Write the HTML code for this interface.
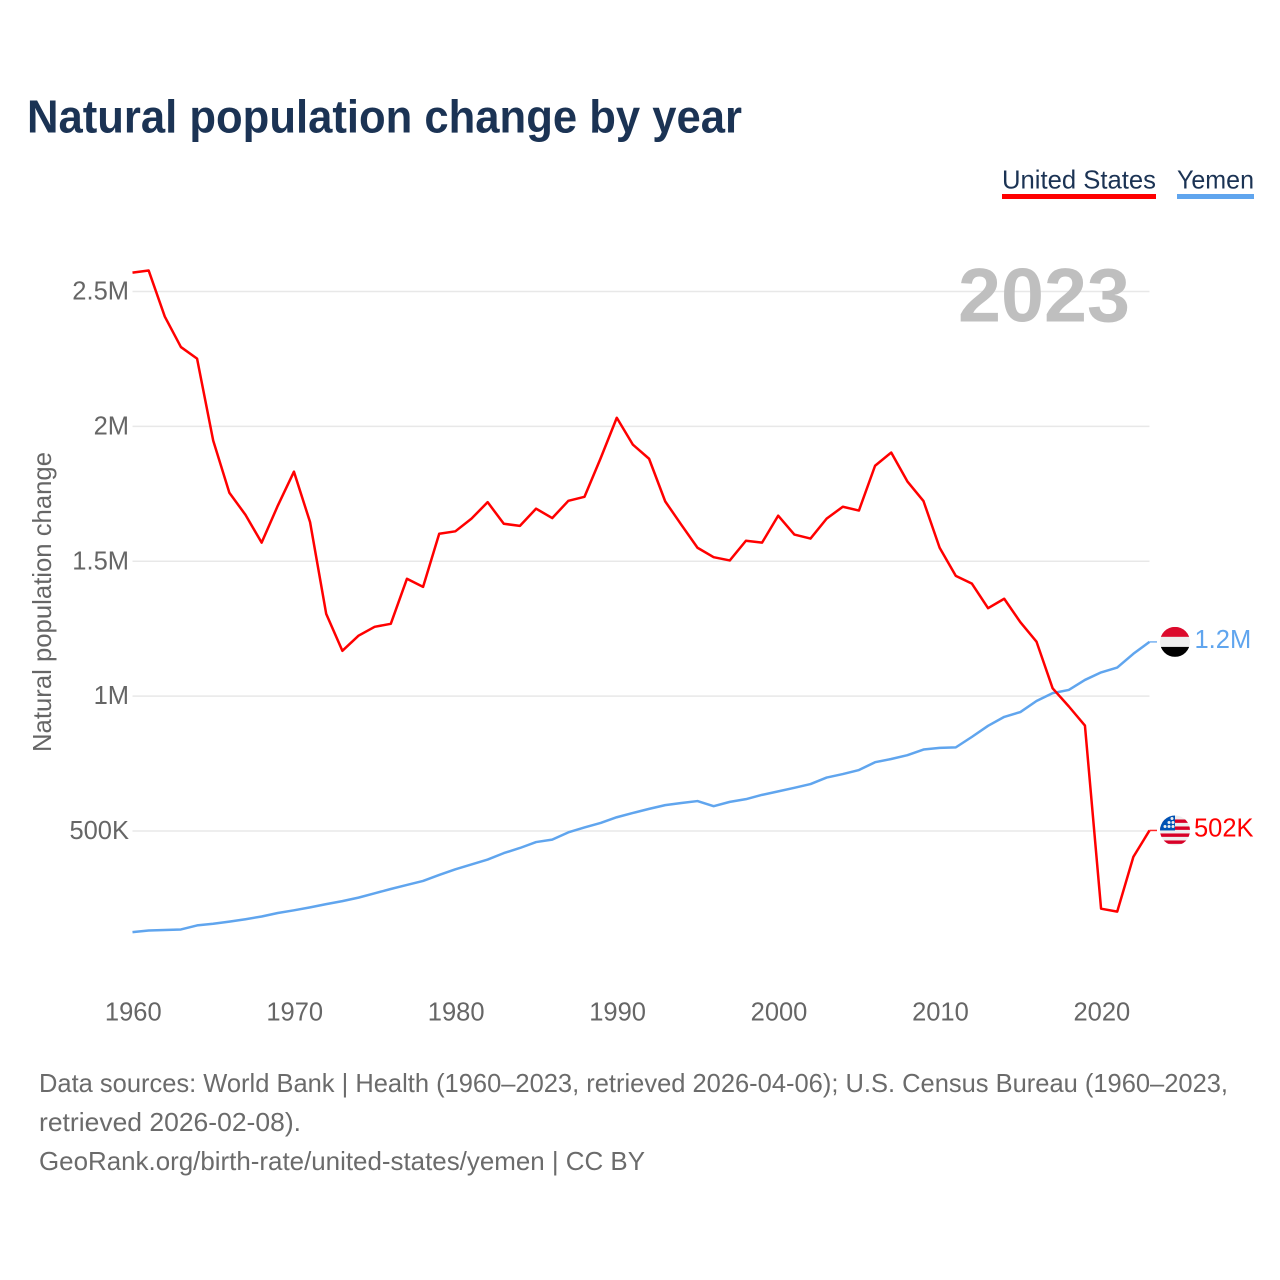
<!DOCTYPE html>
<html lang="en">
<head>
<meta charset="utf-8">
<title>Natural population change by year</title>
<style>
html,body{margin:0;padding:0;background:#fff;width:1280px;height:1280px;overflow:hidden}
svg{display:block;font-family:"Liberation Sans",sans-serif}
</style>
</head>
<body>
<svg id="chart" xmlns="http://www.w3.org/2000/svg" width="1280" height="1280" viewBox="0 0 1280 1280">
  <defs>
    <clipPath id="flag-clip-yemen"><circle cx="15" cy="15" r="15"/></clipPath>
    <clipPath id="flag-clip-us"><circle cx="15" cy="15" r="15"/></clipPath>
  </defs>
  <rect width="1280" height="1280" fill="#fff"/>
  <text x="27" y="132.5" font-size="46" font-weight="700" fill="#1b3354" textLength="715" lengthAdjust="spacingAndGlyphs">Natural population change by year</text>

  <g>
    <text x="1002" y="188.5" font-size="26" fill="#1b3354" textLength="154" lengthAdjust="spacingAndGlyphs">United States</text>
    <rect x="1002" y="194" width="154" height="5" fill="#ff0000"/>
  </g>
  <g>
    <text x="1177" y="188.5" font-size="26" fill="#1b3354" textLength="77" lengthAdjust="spacingAndGlyphs">Yemen</text>
    <rect x="1177" y="194" width="77" height="5" fill="#60a5ee"/>
  </g>

  <g id="grid"></g>
  <g id="y-ticks"></g>
  <g id="x-ticks"></g>

  <text x="958" y="321.5" font-size="76" font-weight="700" fill="#bfbfbf" textLength="172" lengthAdjust="spacingAndGlyphs">2023</text>

  <text transform="translate(51,752) rotate(-90)" font-size="26" fill="#666" textLength="300" lengthAdjust="spacingAndGlyphs">Natural population change</text>

  <g id="series"></g>

  <g id="flag-yemen" clip-path="url(#flag-clip-yemen)">
    <rect width="30" height="10" fill="#dc0a2c"/>
    <rect y="10" width="30" height="10" fill="#eeeeee"/>
    <rect y="20" width="30" height="10" fill="#000"/>
  </g>
  <g id="flag-us" clip-path="url(#flag-clip-us)">
    <rect width="30" height="30" fill="#eeeeee"/>
    <rect y="4" width="30" height="3.4" fill="#d80027"/>
    <rect y="11" width="30" height="3.4" fill="#d80027"/>
    <rect y="18" width="30" height="3.4" fill="#d80027"/>
    <rect y="25" width="30" height="3.4" fill="#d80027"/>
    <rect width="15" height="15" fill="#0052b4"/>
    <circle cx="5" cy="11" r="1.5" fill="#eee"/>
    <circle cx="9" cy="11" r="1.5" fill="#eee"/>
    <circle cx="13" cy="11" r="1.5" fill="#eee"/>
    <circle cx="9" cy="7" r="1.5" fill="#eee"/>
    <circle cx="13" cy="7" r="1.5" fill="#eee"/>
    <circle cx="12" cy="3" r="1.5" fill="#eee"/>
  </g>
  <text id="label-yemen" x="1194.5" font-size="25.5" fill="#60a5ee"></text>
  <text id="label-us" x="1194" font-size="25.5" fill="#ff0000"></text>

  <g font-size="26" fill="#6b6b6b">
    <text x="39" y="1092" textLength="1189" lengthAdjust="spacingAndGlyphs">Data sources: World Bank | Health (1960–2023, retrieved 2026-04-06); U.S. Census Bureau (1960–2023,</text>
    <text x="39" y="1131" textLength="262" lengthAdjust="spacingAndGlyphs">retrieved 2026-02-08).</text>
    <a><text x="39" y="1170" textLength="606" lengthAdjust="spacingAndGlyphs">GeoRank.org/birth-rate/united-states/yemen | CC BY</text></a>
  </g>
</svg>
<script>
const firstYear = 1960;
const xTickYears = [1960, 1970, 1980, 1990, 2000, 2010, 2020];
const yTickValues = [500, 1000, 1500, 2000, 2500];
const yTickLabels = ["500K", "1M", "1.5M", "2M", "2.5M"];
const unitedStatesValues = [2570, 2578, 2407, 2294, 2251, 1947, 1754, 1672, 1569, 1706,
  1832, 1645, 1305, 1168, 1224, 1257, 1268, 1435, 1405, 1602,
  1611, 1658, 1719, 1639, 1631, 1695, 1660, 1724, 1739, 1882,
  2032, 1932, 1880, 1722, 1635, 1550, 1515, 1503, 1576, 1569,
  1669, 1599, 1584, 1658, 1702, 1688, 1854, 1903, 1796, 1723,
  1550, 1446, 1417, 1326, 1361, 1274, 1202, 1029, 962, 891,
  212, 201, 404, 502];
const yemenValues = [125, 131, 133, 135, 150, 156, 164, 173, 183, 196,
  206, 217, 229, 240, 253, 269, 285, 300, 315, 337,
  358, 376, 394, 418, 437, 459, 468, 495, 513, 530,
  551, 567, 582, 596, 604, 611, 592, 608, 618, 634,
  647, 660, 674, 698, 711, 726, 755, 767, 781, 802,
  808, 810, 849, 890, 923, 941, 982, 1011, 1023, 1060,
  1088, 1106, 1157, 1201];
const endLabelUnitedStates = "502K";
const endLabelYemen = "1.2M";

const NS = "http://www.w3.org/2000/svg";
const plotLeft = 132.5, plotRight = 1149.5;
const lastYear = firstYear + unitedStatesValues.length - 1;
function xScale(year) {
  return plotLeft + (year - firstYear) * (plotRight - plotLeft) / (lastYear - firstYear);
}
function yScale(v) {
  return 831 - (v - 500) * (831 - 291.5) / 2000;
}
function make(tag, attrs, parent) {
  const el = document.createElementNS(NS, tag);
  for (const k in attrs) el.setAttribute(k, attrs[k]);
  parent.appendChild(el);
  return el;
}

const grid = document.getElementById("grid");
const yTicks = document.getElementById("y-ticks");
yTickValues.forEach((v, i) => {
  const line = make("line", {x1: plotLeft, x2: plotRight, y1: yScale(v), y2: yScale(v), stroke: "#e8e8e8", "stroke-width": 1.5}, grid);
  
  
  const t = make("text", {x: 129, y: yScale(v) + 8, "text-anchor": "end", "font-size": 25.5, fill: "#666"}, yTicks);
  
  
  t.textContent = yTickLabels[i];
});

const xTicks = document.getElementById("x-ticks");
xTickYears.forEach(y => {
  const t = make("text", {x: xScale(y) + 0.8, y: 1020.5, "text-anchor": "middle", "font-size": 25.5, fill: "#666"}, xTicks);
  
  
  t.textContent = String(y);
});

const stubEnd = 1157;
function drawSeries(values, color, name) {
  const pts = values.map((v, i) => xScale(firstYear + i).toFixed(2) + "," + yScale(v).toFixed(2));
  const p = make("polyline", {points: pts.join(" "), fill: "none", stroke: color, "stroke-width": 2.5, "stroke-linejoin": "round"}, document.getElementById("series"));
  
  
  const endY = yScale(values[values.length - 1]);
  const stub = make("line", {x1: plotRight, x2: stubEnd, y1: endY, y2: endY, stroke: color, "stroke-width": 1.5, "stroke-opacity": 0.85}, document.getElementById("series"));
  
  
}
drawSeries(yemenValues, "#60a5ee", "line-yemen");
drawSeries(unitedStatesValues, "#ff0000", "line-united-states");

const yemenEndY = yScale(yemenValues[yemenValues.length - 1]);
const usEndY = yScale(unitedStatesValues[unitedStatesValues.length - 1]);
document.getElementById("flag-yemen").setAttribute("transform", "translate(1160," + (yemenEndY - 15) + ")");
document.getElementById("flag-us").setAttribute("transform", "translate(1160," + (usEndY - 15) + ")");
const ly = document.getElementById("label-yemen");
ly.setAttribute("y", yemenEndY + 6);
ly.textContent = endLabelYemen;
const lu = document.getElementById("label-us");
lu.setAttribute("y", usEndY + 6);
lu.textContent = endLabelUnitedStates;
</script>
</body>
</html>
